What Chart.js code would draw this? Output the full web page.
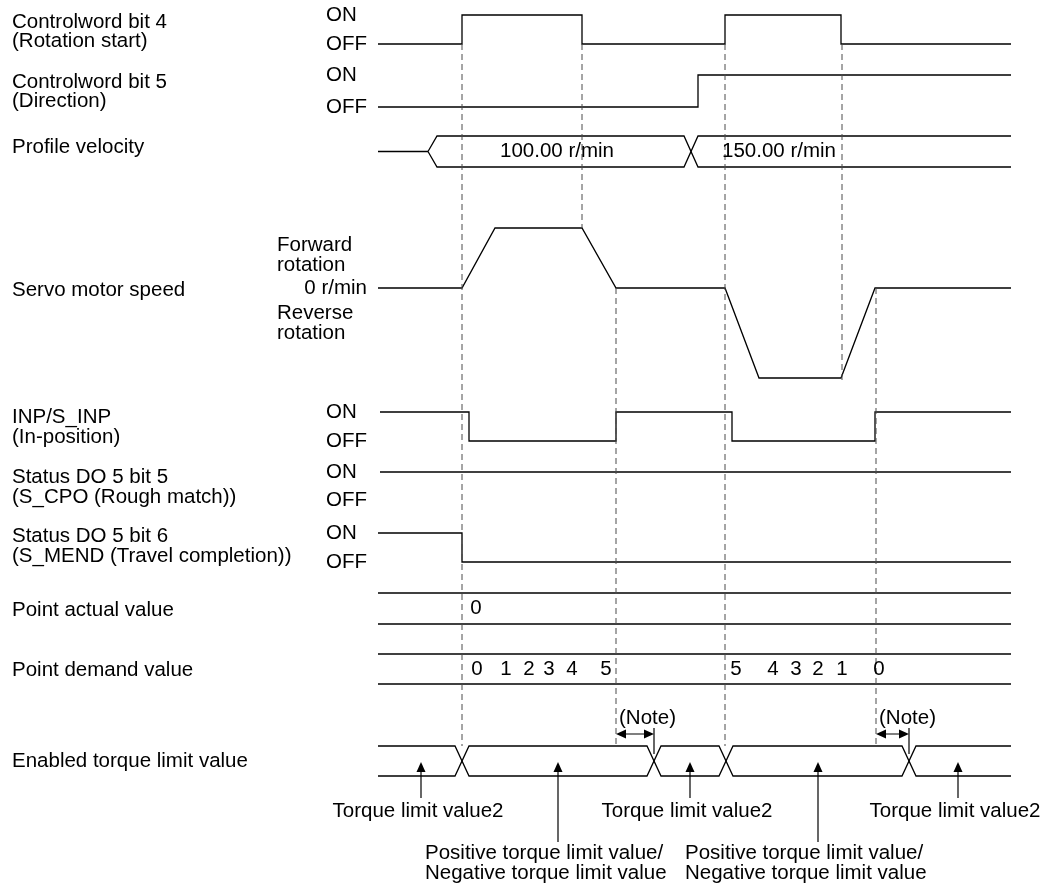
<!DOCTYPE html>
<html>
<head>
<meta charset="utf-8">
<script src="https://cdn.jsdelivr.net/npm/chart.js@4.4.1/dist/chart.umd.min.js"></script>
<style>
  html, body { margin: 0; padding: 0; background: #fff; }
  #wrap { width: 1056px; height: 889px; }
</style>
</head>
<body>
<div id="wrap"><canvas id="timing" width="1056" height="889"></canvas></div>
<script>
const W = 1056, H = 889;

// signal names, left column
const signalLabels = ['Controlword bit 4', '(Rotation start)', 'Controlword bit 5', '(Direction)',
  'Profile velocity', 'Servo motor speed', 'INP/S_INP', '(In-position)',
  'Status DO 5 bit 5', '(S_CPO (Rough match))', 'Status DO 5 bit 6', '(S_MEND (Travel completion))',
  'Point actual value', 'Point demand value', 'Enabled torque limit value'];

// time line (horizontal units), states 1 = ON / 0 = OFF
const tStart = 378, tEnd = 1011;
const rotationStartTimes = [378, 462, 582, 725, 841, 1011];
const rotationStartStates = [0, 1, 0, 1, 0, 0];
const directionTimes = [378, 698, 1011];
const directionStates = [0, 1, 1];
const velocityChangeTimes = [428, 691];
const velocityValues = ['100.00 r/min', '150.00 r/min'];
const speedTimes = [378, 462, 495, 582, 616, 725, 759, 841, 875, 1011];
const speedValues = [0, 0, 100, 100, 0, 0, -150, -150, 0, 0]; // r/min
const inpTimes = [380, 469, 616, 732, 875, 1011];
const inpStates = [1, 0, 1, 0, 1, 1];
const cpoTimes = [380, 1011];
const cpoStates = [1, 1];
const mendTimes = [378, 462, 1011];
const mendStates = [1, 0, 0];
const pointActualTimes = [476];
const pointActualValues = ['0'];
const pointDemandTimes = [477, 506, 529, 549, 572, 606, 736, 773, 796, 818, 842, 879];
const pointDemandValues = ['0', '1', '2', '3', '4', '5', '5', '4', '3', '2', '1', '0'];
const torqueChangeTimes = [462, 654, 726, 909];
const torqueCalloutTimes = [421, 558, 690, 818, 958];
const torqueValues = ['Torque limit value2', 'Positive torque limit value/\nNegative torque limit value',
  'Torque limit value2', 'Positive torque limit value/\nNegative torque limit value', 'Torque limit value2'];
const markerTimes = [462, 582, 616, 725, 842, 876];
const noteFrom = [616, 876];
const noteTo = [654, 909];

// layout (pixels)
const lanePx = {
  laneRot: [15, 44], laneDir: [75, 107], laneVel: [136, 167],
  laneInp: [412, 441], laneCpo: [472, 500], laneMend: [533, 562],
  laneActual: [593, 624], laneDemand: [654, 684], laneTorque: [746, 776]
};
const markerSpans = [[44, 746], [44, 228], [288, 746], [44, 746], [44, 380], [288, 746]];
const labelY = [22, 41, 82, 101, 147, 290, 417, 437, 477, 497, 536, 556, 610, 670, 761];
const velocityTextAt = [557, 779];
const FONT = '20.5px "Liberation Sans", Arial, sans-serif';

function laneAxis(vA, pA, vB, pB) {
  const k = (pA - pB) / (vB - vA);
  const min = vA - (H - pA) / k;
  return { type: 'linear', axis: 'y', display: false, min: min, max: min + H / k };
}

const scales = {
  x: { type: 'linear', axis: 'x', display: false, min: 0, max: W },
  page: { type: 'linear', axis: 'y', display: false, min: 0, max: H, reverse: true },
  laneSpeed: laneAxis(0, 288, 100, 228)
};
Object.keys(lanePx).forEach((k) => { scales[k] = laneAxis(0, lanePx[k][1], 1, lanePx[k][0]); });

function series(times, values) {
  return times.map((t, i) => ({ x: t, y: values[i] }));
}

function line(axis, data, extra) {
  return Object.assign({
    data, yAxisID: axis, xAxisID: 'x', showLine: true, borderColor: '#000',
    borderWidth: 1.3, pointRadius: 0, fill: false, tension: 0,
  }, extra || {});
}

function busEdges(start, end, crossings, half, openAt, openW) {
  const upper = [], lower = [], stub = [];
  if (openAt != null) {
    stub.push({ x: start, y: 0.5 }, { x: openAt, y: 0.5 });
    upper.push({ x: openAt, y: 0.5 }, { x: openAt + openW, y: 1 });
    lower.push({ x: openAt, y: 0.5 }, { x: openAt + openW, y: 0 });
  } else {
    upper.push({ x: start, y: 1 });
    lower.push({ x: start, y: 0 });
  }
  let u = 1;
  crossings.forEach((t) => {
    upper.push({ x: t - half, y: u }, { x: t + half, y: 1 - u });
    lower.push({ x: t - half, y: 1 - u }, { x: t + half, y: u });
    u = 1 - u;
  });
  upper.push({ x: end, y: u });
  lower.push({ x: end, y: 1 - u });
  return { upper, lower, stub };
}

const velBus = busEdges(tStart, tEnd, velocityChangeTimes.slice(1), 7, velocityChangeTimes[0], 9);
const torqueBus = busEdges(tStart, tEnd, torqueChangeTimes, 7);
const actualBus = busEdges(tStart, tEnd, []);
const demandBus = busEdges(tStart, tEnd, []);

const datasets = [];
markerTimes.forEach((t, i) => {
  datasets.push(line('page', [{ x: t, y: markerSpans[i][0] }, { x: t, y: markerSpans[i][1] }],
    { borderColor: '#4a4a4a', borderWidth: 1, borderDash: [6, 4] }));
});
datasets.push(line('laneRot', series(rotationStartTimes, rotationStartStates), { stepped: true }));
datasets.push(line('laneDir', series(directionTimes, directionStates), { stepped: true }));
datasets.push(line('laneVel', velBus.stub));
datasets.push(line('laneVel', velBus.upper));
datasets.push(line('laneVel', velBus.lower));
datasets.push(line('laneSpeed', series(speedTimes, speedValues)));
datasets.push(line('laneInp', series(inpTimes, inpStates), { stepped: true }));
datasets.push(line('laneCpo', series(cpoTimes, cpoStates), { stepped: true }));
datasets.push(line('laneMend', series(mendTimes, mendStates), { stepped: true }));
datasets.push(line('laneActual', actualBus.upper));
datasets.push(line('laneActual', actualBus.lower));
datasets.push(line('laneDemand', demandBus.upper));
datasets.push(line('laneDemand', demandBus.lower));
datasets.push(line('laneTorque', torqueBus.upper));
datasets.push(line('laneTorque', torqueBus.lower));

function arrowHead(ctx, x, y, dx, dy) {
  // tip at (x, y), pointing along (dx, dy)
  const len = 10, hw = 4.5;
  const px = -dy, py = dx;
  ctx.beginPath();
  ctx.moveTo(x, y);
  ctx.lineTo(x - dx * len + px * hw, y - dy * len + py * hw);
  ctx.lineTo(x - dx * len - px * hw, y - dy * len - py * hw);
  ctx.closePath();
  ctx.fill();
}

const textPlugin = {
  id: 'timingText',
  afterDatasetsDraw(chart) {
    const { ctx } = chart;
    const sx = chart.scales.x;
    const pg = chart.scales.page;
    ctx.save();
    ctx.fillStyle = '#000';
    ctx.strokeStyle = '#000';
    ctx.font = FONT;
    ctx.textBaseline = 'middle';

    ctx.textAlign = 'left';
    signalLabels.forEach((s, i) => ctx.fillText(s, 12, pg.getPixelForValue(labelY[i])));

    ['laneRot', 'laneDir', 'laneInp', 'laneCpo', 'laneMend'].forEach((k) => {
      const sc = chart.scales[k];
      ctx.fillText('ON', 326, sc.getPixelForValue(1));
      ctx.fillText('OFF', 326, sc.getPixelForValue(0));
    });

    // servo speed axis labels
    const sp = chart.scales.laneSpeed;
    ctx.fillText('Forward', 277, pg.getPixelForValue(245));
    ctx.fillText('rotation', 277, pg.getPixelForValue(265));
    ctx.fillText('Reverse', 277, pg.getPixelForValue(313));
    ctx.fillText('rotation', 277, pg.getPixelForValue(333));
    ctx.textAlign = 'right';
    ctx.fillText('0 r/min', 367, sp.getPixelForValue(0));

    ctx.textAlign = 'center';
    const vy = chart.scales.laneVel.getPixelForValue(0.5);
    velocityValues.forEach((v, i) => ctx.fillText(v, sx.getPixelForValue(velocityTextAt[i]), vy));
    const ay = chart.scales.laneActual.getPixelForValue(0.5);
    pointActualValues.forEach((v, i) => ctx.fillText(v, sx.getPixelForValue(pointActualTimes[i]), ay));
    const dy = chart.scales.laneDemand.getPixelForValue(0.5);
    pointDemandValues.forEach((v, i) => ctx.fillText(v, sx.getPixelForValue(pointDemandTimes[i]), dy));

    // (Note) delay arrows
    const ty = chart.scales.laneTorque;
    const topY = ty.getPixelForValue(1);
    const noteY = pg.getPixelForValue(734);
    ctx.lineWidth = 1.2;
    noteFrom.forEach((t, i) => {
      const x1 = sx.getPixelForValue(t), x2 = sx.getPixelForValue(noteTo[i]);
      ctx.textAlign = 'left';
      ctx.fillText('(Note)', x1 + 3, pg.getPixelForValue(718));
      ctx.beginPath();
      ctx.moveTo(x1 + 4, noteY);
      ctx.lineTo(x2 - 4, noteY);
      ctx.moveTo(x2, noteY - 6);
      ctx.lineTo(x2, topY + 8);
      ctx.stroke();
      arrowHead(ctx, x1, noteY, -1, 0);
      arrowHead(ctx, x2, noteY, 1, 0);
    });

    // callouts below the torque bus
    const tipY = ty.getPixelForValue(0.47);
    torqueCalloutTimes.forEach((t, i) => {
      const x = sx.getPixelForValue(t);
      const lines = torqueValues[i].split('\n');
      const tailY = pg.getPixelForValue(lines.length > 1 ? 842 : 798);
      ctx.beginPath();
      ctx.moveTo(x, tipY + 6);
      ctx.lineTo(x, tailY);
      ctx.stroke();
      arrowHead(ctx, x, tipY, 0, -1);
      if (lines.length > 1) {
        ctx.textAlign = 'left';
        const left = x - 133;
        ctx.fillText(lines[0], left, pg.getPixelForValue(853));
        ctx.fillText(lines[1], left, pg.getPixelForValue(873));
      } else {
        ctx.textAlign = 'center';
        ctx.fillText(lines[0], x - 3, pg.getPixelForValue(811));
      }
    });
    ctx.restore();
  },
};

new Chart(document.getElementById('timing'), {
  type: 'scatter',
  data: { datasets },
  options: {
    responsive: false,
    animation: false,
    events: [],
    layout: { padding: 0 },
    scales,
    plugins: { legend: { display: false }, tooltip: { enabled: false } },
  },
  plugins: [textPlugin],
});
</script>
</body>
</html>
